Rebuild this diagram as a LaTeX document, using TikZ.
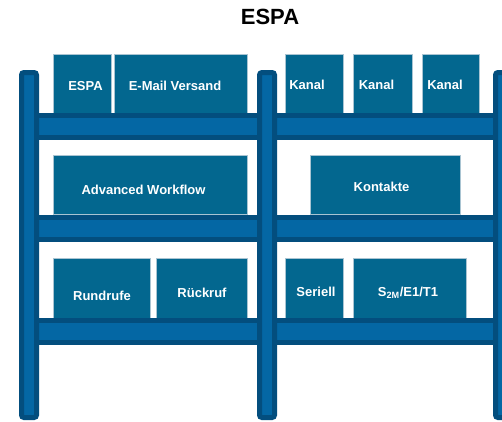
\documentclass[tikz,border=0pt]{standalone}
\usepackage{fontspec}
\setmainfont{Liberation Sans}
\usepackage{xcolor}
\usetikzlibrary{positioning}
\definecolor{PostLight}{HTML}{0467A4}
\definecolor{PostDark}{HTML}{034E7E}
\definecolor{BoxFill}{HTML}{03678F}
\definecolor{BoxLine}{HTML}{A9C4D2}

\begin{document}
\begin{tikzpicture}[
    x=1pt, y=-1pt,
    % Styles
    post/.style={% For the upright posts of the shelf
        rectangle,
        rounded corners=2.5pt,
        fill=PostLight,
        draw=PostDark,
        line width=5pt,
        minimum width=15pt,
        minimum height=345pt,
        inner sep=0pt,
        },
    beam/.style={% For the shelf boards
        rectangle,
        fill=PostLight,
        draw=PostDark,
        line width=5pt,
        minimum width=489pt,
        minimum height=22pt,
        inner sep=0pt,
        },
    box/.style={% For the modules standing on the boards
        rectangle,
        fill=BoxFill,
        draw=BoxLine,
        line width=0.6pt,
        minimum height=59pt,
        inner sep=0pt,
        },
    boxtext/.style={% For the module names
        anchor=base,
        text=white,
        font=\fontsize{13}{15}\selectfont\bfseries,
        inner sep=0pt,
        },
    ]

    \clip (0,0) rectangle (502,421);
    \fill[white] (0,0) rectangle (502,421);

    % Title
    \node[anchor=base, font=\fontsize{22}{26}\selectfont\bfseries, inner sep=0pt] (title) at (270,24) {ESPA};

    % Draw the modules:
    % top row
    \node [box, minimum width=58pt] (espa) at (82,83.5) {};
    \node [box, minimum width=133pt] (email) at (180.5,83.5) {};
    \node [box, minimum width=58pt] (kanal1) at (314,83.5) {};
    \node [box, minimum width=59pt] (kanal2) at (382.5,83.5) {};
    \node [box, minimum width=57pt] (kanal3) at (450.5,83.5) {};
    % middle row
    \node [box, minimum width=194pt] (workflow) at (150,184.5) {};
    \node [box, minimum width=150pt] (kontakte) at (385,184.5) {};
    % bottom row
    \node [box, minimum width=97pt, minimum height=60pt] (rundrufe) at (101.5,288) {};
    \node [box, minimum width=91pt, minimum height=60pt] (rueckruf) at (201.5,288) {};
    \node [box, minimum width=58pt, minimum height=60pt] (seriell) at (314,288) {};
    \node [box, minimum width=113pt, minimum height=60pt] (s2m) at (409.5,288) {};

    % Module names
    \node [boxtext] (espa-t) at (85.5,90.7) {ESPA};
    \node [boxtext] (email-t) at (175,90.7) {E-Mail Versand};
    \node [boxtext] (kanal1-t) at (307,89) {Kanal};
    \node [boxtext] (kanal2-t) at (376.5,89) {Kanal};
    \node [boxtext] (kanal3-t) at (445,89) {Kanal};
    \node [boxtext] (workflow-t) at (143.5,194) {Advanced Workflow};
    \node [boxtext] (kontakte-t) at (381.5,191.5) {Kontakte};
    \node [boxtext] (rundrufe-t) at (102,300.5) {Rundrufe};
    \node [boxtext] (rueckruf-t) at (202,297.5) {Rückruf};
    \node [boxtext] (seriell-t) at (316,296.5) {Seriell};
    \node [boxtext] (s2m-t) at (408,296.5) {S\textsubscript{2M}/E1/T1};

    % Draw the boards
    \node [beam] (board1) at (266,126.5) {};
    \node [beam] (board2) at (266,228) {};
    \node [beam] (board3) at (266,331.5) {};

    % Draw the posts on top
    \node [post] (postL) at (29,245) {};
    \node [post] (postM) at (267,245) {};
    \node [post] (postR) at (503,245) {};

\end{tikzpicture}
\end{document}
